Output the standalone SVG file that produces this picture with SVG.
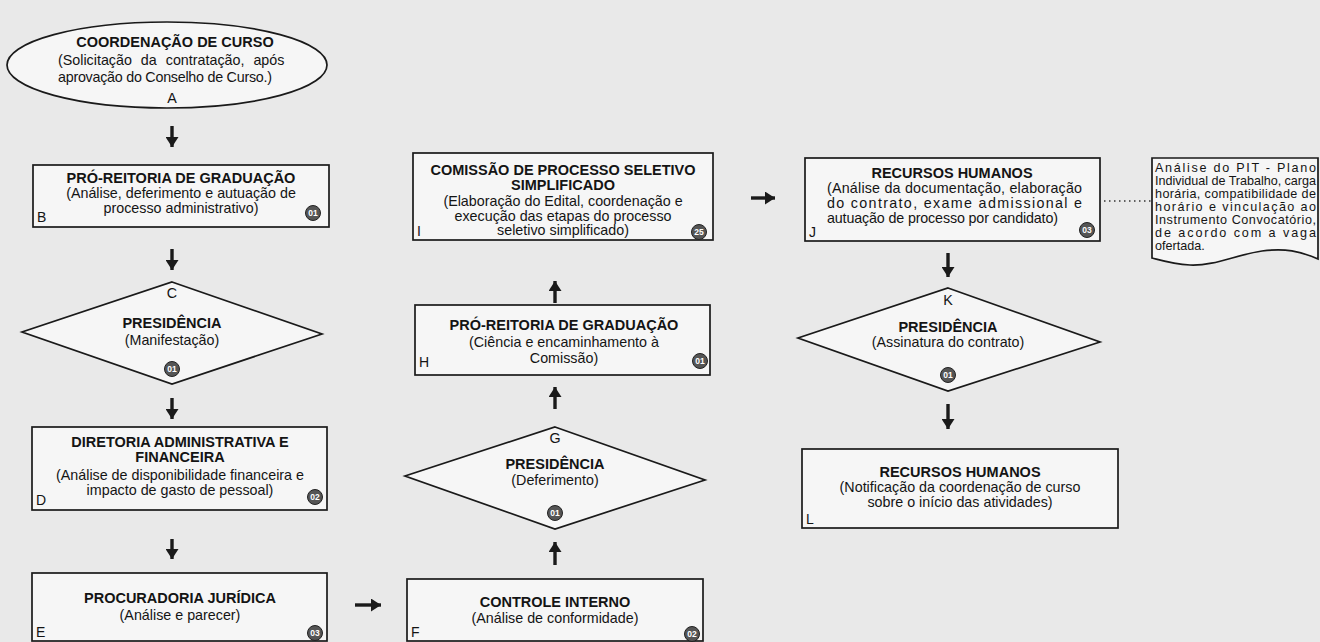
<svg xmlns="http://www.w3.org/2000/svg" width="1320" height="642" viewBox="0 0 1320 642">
<style>
  .bg{fill:#e9e9e9}
  .shape{fill:#f6f6f6;stroke:#1a1a1a;stroke-width:1.7}
  text{font-family:"Liberation Sans",Arial,sans-serif;fill:#141414}
  .t{font-size:14.5px;font-weight:bold;text-anchor:middle}
  .b{font-size:14.3px;text-anchor:middle}
  .bl{font-size:14.3px}
  .lbl{font-size:14px}
  .n{font-size:12.6px}
  .badge circle{fill:#555;stroke:#222;stroke-width:1}
  .badge text{font-size:8.5px;font-weight:bold;fill:#fff;text-anchor:middle}
  .arr{stroke:#1a1a1a;stroke-width:3.4;fill:none;marker-end:url(#ah)}
  .dot{stroke:#333;stroke-width:1.5;stroke-dasharray:1.5 3.5;fill:none}
</style>
<defs>
  <marker id="ah" markerUnits="userSpaceOnUse" markerWidth="12" markerHeight="13" refX="10" refY="6.5" orient="auto">
    <path d="M0,0 L10,6.5 L0,13 z" fill="#1a1a1a"/>
  </marker>
</defs>
<rect class="bg" x="0" y="0" width="1320" height="642"/>

<g id="connectors">
  <path class="arr" d="M172,126 V147"/>
  <path class="arr" d="M172,249 V270"/>
  <path class="arr" d="M172,398 V419"/>
  <path class="arr" d="M172,539 V559"/>
  <path class="arr" d="M355,605 H381"/>
  <path class="arr" d="M555,565 V542"/>
  <path class="arr" d="M555,409 V387"/>
  <path class="arr" d="M555,303 V281"/>
  <path class="arr" d="M751,198 H775"/>
  <path class="arr" d="M948,253 V277"/>
  <path class="arr" d="M948,404 V429"/>
  <path class="dot" d="M1104,201 H1151"/>
</g>

<g id="nodeA">
  <ellipse class="shape" cx="167" cy="65" rx="160" ry="43"/>
  <text class="t" x="175" y="47">COORDENAÇÃO DE CURSO</text>
  <text class="bl" x="58" y="65" word-spacing="5">(Solicitação da contratação, após</text>
  <text class="bl" x="58" y="82" textLength="214" lengthAdjust="spacing">aprovação do Conselho de Curso.)</text>
  <text class="b" x="172" y="103">A</text>
</g>

<g id="nodeB">
  <rect class="shape" x="33" y="165" width="296" height="62"/>
  <text class="t" x="181" y="183">PRÓ-REITORIA DE GRADUAÇÃO</text>
  <text class="b" x="181" y="198">(Análise, deferimento e autuação de</text>
  <text class="b" x="181" y="213">processo administrativo)</text>
  <text class="lbl" x="37" y="222">B</text>
  <g class="badge"><circle cx="313" cy="213" r="7.5"/><text x="313" y="216">01</text></g>
</g>

<g id="nodeC">
  <polygon class="shape" points="172,282 322,334 172,384 22,332"/>
  <text class="b" x="172" y="298">C</text>
  <text class="t" x="172" y="328">PRESIDÊNCIA</text>
  <text class="b" x="172" y="345">(Manifestação)</text>
  <g class="badge"><circle cx="172" cy="369" r="7.5"/><text x="172" y="372">01</text></g>
</g>

<g id="nodeD">
  <rect class="shape" x="32" y="427" width="295" height="83"/>
  <text class="t" x="180" y="447">DIRETORIA ADMINISTRATIVA E</text>
  <text class="t" x="180" y="462">FINANCEIRA</text>
  <text class="b" x="180" y="480">(Análise de disponibilidade financeira e</text>
  <text class="b" x="180" y="495">impacto de gasto de pessoal)</text>
  <text class="lbl" x="36" y="505">D</text>
  <g class="badge"><circle cx="315" cy="497" r="7.5"/><text x="315" y="500">02</text></g>
</g>

<g id="nodeE">
  <rect class="shape" x="32" y="573" width="295" height="68"/>
  <text class="t" x="180" y="603">PROCURADORIA JURÍDICA</text>
  <text class="b" x="180" y="620">(Análise e parecer)</text>
  <text class="lbl" x="36" y="637">E</text>
  <g class="badge"><circle cx="315" cy="633" r="7.5"/><text x="315" y="636">03</text></g>
</g>

<g id="nodeF">
  <rect class="shape" x="407" y="579" width="296" height="62"/>
  <text class="t" x="555" y="607">CONTROLE INTERNO</text>
  <text class="b" x="555" y="623">(Análise de conformidade)</text>
  <text class="lbl" x="411" y="637">F</text>
  <g class="badge"><circle cx="692" cy="634" r="7.5"/><text x="692" y="637">02</text></g>
</g>

<g id="nodeG">
  <polygon class="shape" points="555,427 705,480 555,529 405,476"/>
  <text class="b" x="555" y="443">G</text>
  <text class="t" x="555" y="469">PRESIDÊNCIA</text>
  <text class="b" x="555" y="485">(Deferimento)</text>
  <g class="badge"><circle cx="555" cy="513" r="7.5"/><text x="555" y="516">01</text></g>
</g>

<g id="nodeH">
  <rect class="shape" x="415" y="305" width="295" height="70"/>
  <text class="t" x="564" y="330">PRÓ-REITORIA DE GRADUAÇÃO</text>
  <text class="b" x="564" y="347">(Ciência e encaminhamento à</text>
  <text class="b" x="564" y="363">Comissão)</text>
  <text class="lbl" x="419" y="367">H</text>
  <g class="badge"><circle cx="700" cy="361" r="7.5"/><text x="700" y="364">01</text></g>
</g>

<g id="nodeI">
  <rect class="shape" x="413" y="153" width="300" height="87"/>
  <text class="t" x="563" y="175">COMISSÃO DE PROCESSO SELETIVO</text>
  <text class="t" x="563" y="190">SIMPLIFICADO</text>
  <text class="b" x="563" y="206">(Elaboração do Edital, coordenação e</text>
  <text class="b" x="563" y="221">execução das etapas do processo</text>
  <text class="b" x="563" y="235">seletivo simplificado)</text>
  <text class="lbl" x="417" y="236">I</text>
  <g class="badge"><circle cx="699" cy="232" r="7.5"/><text x="699" y="235">25</text></g>
</g>

<g id="nodeJ">
  <rect class="shape" x="805" y="158" width="295" height="83"/>
  <text class="t" x="952" y="178">RECURSOS HUMANOS</text>
  <text class="bl" x="827" y="193" textLength="255" lengthAdjust="spacing">(Análise da documentação, elaboração</text>
  <text class="bl" x="827" y="208" textLength="255" lengthAdjust="spacing">do contrato, exame admissional e</text>
  <text class="bl" x="827" y="223" textLength="231" lengthAdjust="spacing">autuação de processo por candidato)</text>
  <text class="lbl" x="809" y="237">J</text>
  <g class="badge"><circle cx="1087" cy="230" r="7.5"/><text x="1087" y="233">03</text></g>
</g>

<g id="note">
  <path class="shape" d="M1152,158 H1318 V259 C1300,251 1285,248 1262,251 C1235,255 1215,266 1190,265 C1172,264 1160,260 1152,258 Z"/>
  <text class="n" x="1155" y="172" textLength="161" lengthAdjust="spacing">Análise do PIT - Plano</text>
  <text class="n" x="1155" y="185" textLength="161" lengthAdjust="spacing">Individual de Trabalho, carga</text>
  <text class="n" x="1155" y="198" textLength="161" lengthAdjust="spacing">horária, compatibilidade de</text>
  <text class="n" x="1155" y="211" textLength="161" lengthAdjust="spacing">horário e vinculação ao</text>
  <text class="n" x="1155" y="224" textLength="161" lengthAdjust="spacing">Instrumento Convocatório,</text>
  <text class="n" x="1155" y="237" textLength="161" lengthAdjust="spacing">de acordo com a vaga</text>
  <text class="n" x="1155" y="250">ofertada.</text>
</g>

<g id="nodeK">
  <polygon class="shape" points="948,288 1100,342 948,391 798,338"/>
  <text class="b" x="948" y="305">K</text>
  <text class="t" x="948" y="332">PRESIDÊNCIA</text>
  <text class="b" x="948" y="347">(Assinatura do contrato)</text>
  <g class="badge"><circle cx="948" cy="375" r="7.5"/><text x="948" y="378">01</text></g>
</g>

<g id="nodeL">
  <rect class="shape" x="802" y="449" width="316" height="79"/>
  <text class="t" x="960" y="477">RECURSOS HUMANOS</text>
  <text class="b" x="960" y="492">(Notificação da coordenação de curso</text>
  <text class="b" x="960" y="507">sobre o início das atividades)</text>
  <text class="lbl" x="806" y="524">L</text>
</g>
</svg>
